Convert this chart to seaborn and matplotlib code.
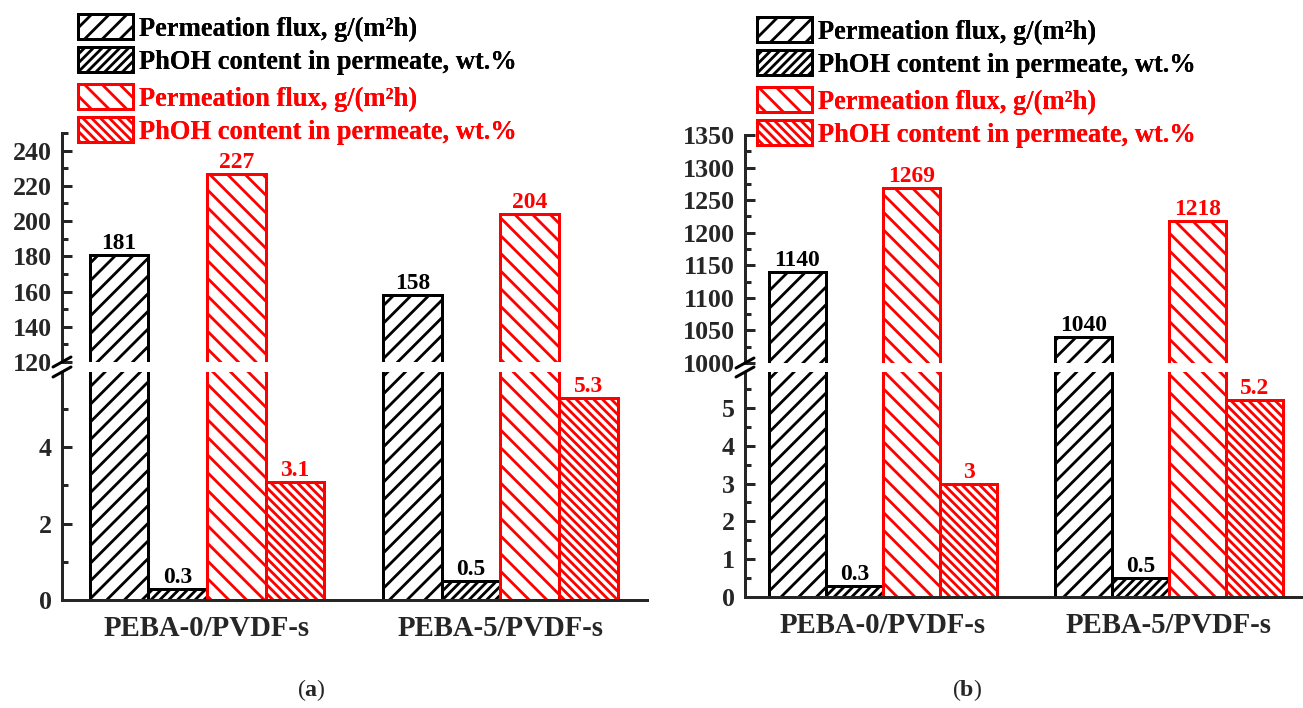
import matplotlib
matplotlib.use("Agg")
import matplotlib.pyplot as plt
from matplotlib.patches import Patch
from matplotlib.lines import Line2D
from matplotlib.ticker import MultipleLocator
import pandas as pd
import seaborn as sns

# ---------------- data ----------------
categories = ["PEBA-0/PVDF-s", "PEBA-5/PVDF-s"]
series = ["flux_1", "phoh_1", "flux_2", "phoh_2"]
legend_labels = [
    "Permeation flux, g/(m\u00b2h)",
    "PhOH content in permeate, wt.%",
    "Permeation flux, g/(m\u00b2h)",
    "PhOH content in permeate, wt.%",
]
series_colors = ["black", "black", "red", "red"]
series_hatches = ["//", "////", "\\\\", "\\\\\\\\"]

# panel (a)
a_flux_1 = [181, 158]
a_phoh_1 = [0.3, 0.5]
a_flux_2 = [227, 204]
a_phoh_2 = [3.1, 5.3]

# panel (b)
b_flux_1 = [1140, 1040]
b_phoh_1 = [0.3, 0.5]
b_flux_2 = [1269, 1218]
b_phoh_2 = [3, 5.2]

# ---------------- style ----------------
DPI = 106
W, H = 1303, 708


def pt(px):
    return px * 72.0 / DPI


sns.set_style("ticks")
plt.rcParams["font.family"] = ["Liberation Serif", "DejaVu Serif"]
plt.rcParams["font.weight"] = "bold"
plt.rcParams["mathtext.fontset"] = "custom"
plt.rcParams["mathtext.rm"] = "Liberation Serif"
plt.rcParams["mathtext.bf"] = "Liberation Serif:bold"
plt.rcParams["hatch.linewidth"] = pt(2.8)

LW = pt(3.0)
TICK_FS = pt(26)
VAL_FS = pt(23.5)
XLAB_FS = pt(28.8)
LEG_FS = pt(26.5)

fig = plt.figure(figsize=(W / DPI, H / DPI), dpi=DPI)
fig.patch.set_facecolor("white")


def rect(x0, x1, y0, y1):
    return [x0 / W, 1 - y1 / H, (x1 - x0) / W, (y1 - y0) / H]


def to_frame(values):
    rows = []
    for name, vals in zip(series, values):
        for cat, v in zip(categories, vals):
            rows.append({"membrane": cat, "series": name, "value": v})
    return pd.DataFrame(rows)


def draw_bars(ax, df):
    sns.barplot(
        data=df, x="membrane", y="value", hue="series",
        order=categories, hue_order=series,
        palette=dict(zip(series, series_colors)),
        width=0.8, errorbar=None, saturation=1, legend=False, ax=ax,
    )
    for cont, col, hat in zip(ax.containers, series_colors, series_hatches):
        for bar in cont:
            bar.set_facecolor("white")
            bar.set_edgecolor(col)
            bar.set_hatch(hat)
            bar.set_linewidth(LW)
    ax.set_xlabel("")
    ax.set_ylabel("")


def style_y(ax, major, minor):
    ax.yaxis.set_major_locator(MultipleLocator(major))
    ax.yaxis.set_minor_locator(MultipleLocator(minor))
    ax.tick_params(axis="y", which="major", direction="in", length=pt(10),
                   width=LW, labelsize=TICK_FS, pad=pt(10))
    ax.tick_params(axis="y", which="minor", direction="in", length=pt(6),
                   width=LW)
    for s in ("top", "right"):
        ax.spines[s].set_visible(False)
    ax.spines["left"].set_linewidth(LW)
    ax.spines["bottom"].set_linewidth(LW)


def label_bars(ax, idx):
    for i in idx:
        ax.bar_label(ax.containers[i], fmt="%g", padding=pt(1),
                     fontsize=VAL_FS, color=series_colors[i],
                     fontweight="bold")


def break_marks(x_axis, y_top, y_bot):
    for y in (y_top, y_bot):
        fig.add_artist(Line2D([(x_axis - 9) / W, (x_axis + 9) / W],
                              [1 - (y + 5) / H, 1 - (y - 5) / H],
                              color="black", lw=LW, transform=fig.transFigure))


def panel(x0, x1, y_up, y_gap0, y_gap1, y_low, xmin, values,
          up_lim, up_major, up_minor, low_lim, low_major, low_minor,
          leg_x, leg_y):
    df = to_frame(values)
    ax_up = fig.add_axes(rect(x0, x1, y_up, y_gap0))
    ax_low = fig.add_axes(rect(x0, x1, y_gap1, y_low))
    for ax in (ax_up, ax_low):
        draw_bars(ax, df)
        ax.set_xlim(xmin, 1.5)
        ax.set_facecolor("white")
    ax_up.set_ylim(*up_lim)
    ax_low.set_ylim(*low_lim)
    style_y(ax_up, up_major, up_minor)
    style_y(ax_low, low_major, low_minor)
    ax_up.spines["bottom"].set_visible(False)
    ax_up.tick_params(axis="x", bottom=False, labelbottom=False)
    ax_low.tick_params(axis="x", length=0, labelsize=XLAB_FS, pad=pt(15))
    for t in ax_low.get_xticklabels():
        t.set_fontweight("bold")
    label_bars(ax_up, [0, 2])
    label_bars(ax_low, [1, 3])
    break_marks(x0, y_gap0, y_gap1)

    # legends: black pair and red pair
    for k, top in ((0, leg_y), (2, leg_y + 70)):
        handles = [Patch(facecolor="white", edgecolor=series_colors[j],
                         hatch=series_hatches[j], linewidth=LW)
                   for j in (k, k + 1)]
        leg = fig.legend(handles, [legend_labels[k], legend_labels[k + 1]],
                         loc="upper left",
                         bbox_to_anchor=(leg_x / W, 1 - top / H),
                         bbox_transform=fig.transFigure,
                         frameon=False,
                         handlelength=2.07, handleheight=1.1,
                         handletextpad=0.25, labelspacing=0.2,
                         borderpad=0, borderaxespad=0,
                         labelcolor=[series_colors[k], series_colors[k + 1]],
                         prop={"weight": "bold", "size": LEG_FS})
        fig.add_artist(leg)
    return ax_up, ax_low


panel(62, 647, 133, 362, 372, 600, -0.494,
      [a_flux_1, a_phoh_1, a_flux_2, a_phoh_2],
      (120, 250), 20, 10, (0, 5.97), 2, 1, 78, 14)

panel(745, 1312, 135, 363, 372, 597, -0.483,
      [b_flux_1, b_phoh_1, b_flux_2, b_phoh_2],
      (1000, 1350), 50, 25, (0, 5.95), 1, 0.5, 757, 17)

fig.text(311 / W, 1 - 690 / H, "($\\mathbf{a}$)", ha="center", va="center",
         fontsize=pt(24), fontweight="normal")
fig.text(967 / W, 1 - 690 / H, "($\\mathbf{b}$)", ha="center", va="center",
         fontsize=pt(24), fontweight="normal")

fig.savefig("out.png", dpi=DPI, facecolor="white")
